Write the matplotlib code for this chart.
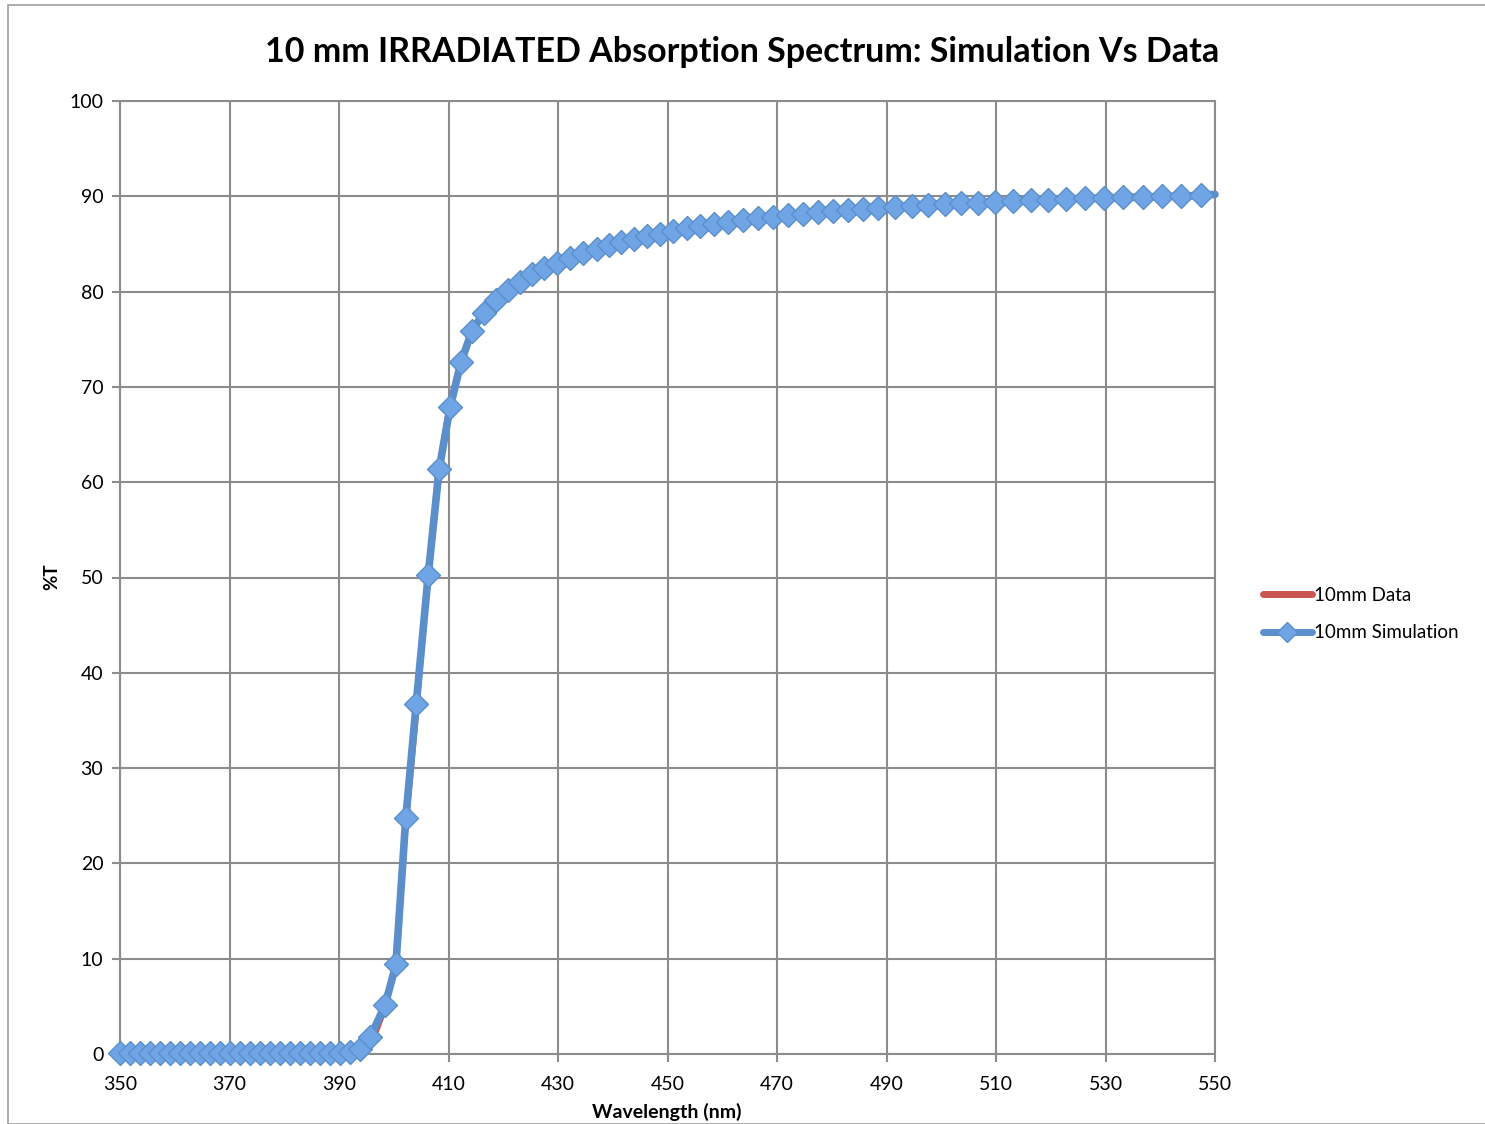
import matplotlib
matplotlib.use("Agg")
import matplotlib.pyplot as plt
from matplotlib.lines import Line2D
from matplotlib.patches import Rectangle

# ---- data ----
sim_wl = [350.0, 351.8, 353.7, 355.5, 357.3, 359.1, 361.0, 362.8, 364.6, 366.4,
          368.3, 370.1, 371.9, 373.7, 375.6, 377.4, 379.2, 381.1, 382.9, 384.7,
          386.5, 388.4, 390.2, 392.0, 393.8, 395.7, 398.4, 400.4, 402.2, 404.1,
          406.3, 408.3, 410.3, 412.3, 414.3, 416.5, 418.7, 420.9, 423.1, 425.3,
          427.4, 429.8, 432.2, 434.6, 437.1, 439.3, 441.5, 443.9, 446.3, 448.6,
          451.0, 453.6, 455.9, 458.5, 461.1, 463.8, 466.5, 469.3, 472.0, 474.7,
          477.5, 480.2, 483.0, 485.7, 488.4, 491.6, 494.7, 497.6, 500.7, 503.6,
          506.7, 509.8, 513.1, 516.4, 519.5, 522.8, 526.3, 529.7, 533.2, 536.8,
          540.3, 543.8, 547.4, 550.0]
sim_t = [0.1, 0.1, 0.1, 0.1, 0.1, 0.1, 0.1, 0.1, 0.1, 0.1,
         0.1, 0.1, 0.1, 0.1, 0.1, 0.1, 0.1, 0.1, 0.1, 0.1,
         0.1, 0.1, 0.1, 0.2, 0.5, 1.8, 5.1, 9.4, 24.8, 36.7,
         50.3, 61.4, 67.9, 72.6, 75.9, 77.8, 79.1, 80.2, 81.0, 81.8,
         82.5, 83.0, 83.5, 84.1, 84.5, 84.9, 85.2, 85.5, 85.8, 86.0,
         86.4, 86.7, 86.9, 87.1, 87.3, 87.5, 87.7, 87.8, 88.0, 88.1,
         88.4, 88.5, 88.6, 88.7, 88.8, 88.9, 89.0, 89.1, 89.2, 89.3,
         89.3, 89.4, 89.5, 89.6, 89.6, 89.7, 89.8, 89.8, 89.9, 89.9,
         90.0, 90.0, 90.1, 90.2]

data_wl = [350, 360, 370, 380, 390, 392, 394, 396, 398, 400, 401, 402, 404, 406,
           408, 410, 412, 414, 416, 418, 420, 425, 430, 440, 450, 460, 470, 480,
           490, 500, 510, 520, 530, 540, 550]
data_t = [0.0, 0.0, 0.0, 0.0, 0.0, 0.1, 0.3, 1.2, 4.2, 8.5, 14.0, 22.5, 35.0, 48.5,
          60.5, 67.5, 72.3, 75.6, 77.6, 79.0, 80.1, 81.8, 83.0, 85.0, 86.2, 87.2,
          87.9, 88.4, 88.8, 89.1, 89.4, 89.6, 89.8, 90.0, 90.2]

xticks = [350, 370, 390, 410, 430, 450, 470, 490, 510, 530, 550]
yticks = [0, 10, 20, 30, 40, 50, 60, 70, 80, 90, 100]

title = "10 mm IRRADIATED Absorption Spectrum: Simulation Vs Data"
xlabel = "Wavelength (nm)"
ylabel = "%T"
legend_labels = ["10mm Data", "10mm Simulation"]

# ---- style ----
plt.rcParams['font.family'] = ['Lato', 'DejaVu Sans']
red = '#C9564F'
blue_line = '#5B8FCB'
blue_face = '#6FA5E4'
grid_c = '#8C8C8C'

W, H = 1485, 1124
fig = plt.figure(figsize=(W / 100, H / 100), dpi=100)
fig.patch.set_facecolor('white')

# outer chart border
fig.add_artist(Rectangle((8 / W, 0), 1.2, (H - 5) / H, transform=fig.transFigure,
                         fill=False, edgecolor='#A0A0A0', lw=1.2))

ax = fig.add_axes([120 / W, (H - 1054) / H, (1215 - 120) / W, (1054 - 101) / H])
ax.set_xlim(350, 550)
ax.set_ylim(0, 100)
ax.set_xticks(xticks)
ax.set_yticks(yticks)
ax.grid(True, color=grid_c, lw=1.5)
ax.set_axisbelow(True)
for s in ax.spines.values():
    s.set_color(grid_c)
    s.set_linewidth(1.5)
ax.tick_params(axis='both', direction='out', length=6, width=1.5, color=grid_c,
               labelsize=14, labelcolor='black')
ax.tick_params(axis='x', pad=10)
ax.tick_params(axis='y', pad=6)

ax.plot(data_wl, data_t, color=red, lw=4.0, solid_capstyle='round', zorder=3,
        clip_on=False)
ax.plot(sim_wl, sim_t, color=blue_line, lw=5.5, zorder=4, clip_on=False,
        solid_capstyle='round', solid_joinstyle='round')
ax.plot(sim_wl[:-1], sim_t[:-1], ls='none', marker='D', ms=12, mfc=blue_face,
        mec=blue_line, mew=1.0, zorder=5, clip_on=False)

fig.text(0.5, (H - 52) / H, title, ha='center', va='center', fontsize=24.5,
         fontweight='bold')
fig.text(667 / W, (H - 1112) / H, xlabel, ha='center', va='center',
         fontsize=14, fontweight='bold')
fig.text(52 / W, (H - 577) / H, ylabel, ha='center', va='center', rotation=90,
         fontsize=13.5, fontweight='bold')

handles = [Line2D([], [], color=red, lw=5, solid_capstyle='round'),
           Line2D([], [], color=blue_line, lw=5, marker='D', ms=10,
                  mfc=blue_face, mec=blue_line, solid_capstyle='round')]
leg = fig.legend(handles, legend_labels, loc='center left',
                 bbox_to_anchor=(1246 / W, (H - 614) / H), frameon=False,
                 fontsize=13.5, handlelength=2.6, handletextpad=0.15,
                 labelspacing=1.1)

fig.savefig('out.png', dpi=100, facecolor='white')
